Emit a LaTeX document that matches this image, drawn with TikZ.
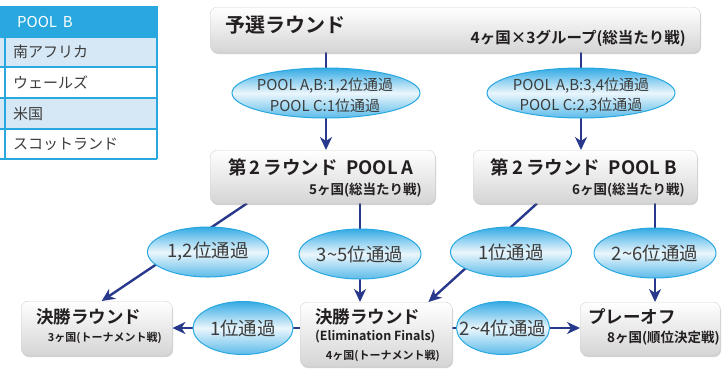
\documentclass[tikz,border=0pt]{standalone}
\usepackage{fontspec}
\setmainfont{Noto Sans CJK JP}[BoldFont={Noto Sans CJK JP Bold}]
\usetikzlibrary{shapes.geometric,arrows.meta,shadows,calc}
\definecolor{navy}{RGB}{40,57,140}
\definecolor{skyb}{RGB}{41,168,224}
\definecolor{skyfill}{RGB}{52,170,228}
\definecolor{rowb}{RGB}{214,232,245}
\definecolor{txt}{RGB}{35,31,32}
\definecolor{ltxt}{RGB}{60,60,60}
\newcommand{\fsz}[1]{\fontsize{#1}{#1}\selectfont}
\pgfdeclarelayer{bg}
\pgfsetlayers{bg,main}
\begin{document}
\begin{tikzpicture}[x=1pt,y=-1pt,
  box/.style={rectangle, rounded corners=7pt, draw=gray!35, line width=0.4pt,
    top color=white, bottom color=gray!33,
    drop shadow={shadow xshift=0.8pt, shadow yshift=-1.8pt, opacity=0.3, fill=black!60},
    inner sep=0pt, anchor=north west},
  oval/.style={ellipse, draw=skyb, line width=1pt, top color=skyfill,
    bottom color=skyfill!80, middle color=white!90!skyfill, inner sep=0pt},
  conn/.style={draw=navy, line width=2.4pt},
  arr/.style={conn, -{Stealth[length=13pt,width=12pt,inset=4pt]}},
  ttl/.style={font=\bfseries\fsz{17.5}, text=txt, inner sep=0pt},
  sub/.style={font=\bfseries\fsz{13.5}, text=txt, inner sep=0pt},
  lbl/.style={font=\fsz{18.5}, text=ltxt, inner sep=0pt},
  tlbl/.style={font=\fsz{15}, text=ltxt, inner sep=0pt, align=center},
  tab/.style={font=\fsz{15}, text=ltxt, inner sep=0pt, anchor=west},
  grid/.style={draw=skyb, line width=1.2pt}
]
\useasboundingbox (0,0) rectangle (725,370);

% ---------- table ----------
\fill[skyb] (0,6) rectangle (157,37);
\fill[rowb] (0,37) rectangle (157,67);
\fill[white] (0,67) rectangle (157,98);
\fill[rowb] (0,98) rectangle (157,129);
\fill[white] (0,129) rectangle (157,159);
\foreach \yy in {37,67,98,129,159} \draw[grid] (0,\yy) -- (157,\yy);
\draw[grid] (5,37) -- (5,159);
\draw[grid] (157,6) -- (157,159);
\node[tab, text=white] (th) at (17,22) {POOL\, B};
\node[tab] (t1) at (13,52) {南アフリカ};
\node[tab] (t2) at (13,82.5) {ウェールズ};
\node[tab] (t3) at (13,113.5) {米国};
\node[tab] (t4) at (13,144) {スコットランド};

% ---------- boxes ----------
\node[box, minimum width=490pt, minimum height=45pt] (top) at (210,7) {};
\node[box, minimum width=225pt, minimum height=53pt] (boxA) at (210,150) {};
\node[box, minimum width=224pt, minimum height=53pt] (boxB) at (473,150) {};
\node[box, minimum width=151pt, minimum height=54pt] (boxL) at (21,301) {};
\node[box, minimum width=152pt, minimum height=64pt] (boxE) at (300,302) {};
\node[box, minimum width=140pt, minimum height=53pt] (boxP) at (580,302) {};

% ---------- ovals ----------
\node[oval, minimum width=188pt, minimum height=50pt] (eA) at (326,93) {};
\node[oval, minimum width=188pt, minimum height=50pt] (eB) at (581,93) {};
\node[oval, minimum width=121pt, minimum height=50pt] (e12) at (208,252) {};
\node[oval, minimum width=122pt, minimum height=50pt] (e35) at (360,254) {};
\node[oval, minimum width=121pt, minimum height=50pt] (e1) at (511,252) {};
\node[oval, minimum width=122pt, minimum height=50pt] (e26) at (655,253) {};
\node[oval, minimum width=100pt, minimum height=53pt] (eL) at (243,328) {};
\node[oval, minimum width=93pt, minimum height=53pt] (eR) at (503,328) {};

% ---------- texts ----------
\node[ttl, font=\bfseries\fsz{20}, anchor=west] (topt) at (225,25) {予選ラウンド};
\node[sub, font=\bfseries\fsz{15.5}, anchor=east] (tops) at (686,38) {4ヶ国×3グループ(総当たり戦)};
\node[tlbl] (eAt1) at (325,86) {POOL A,B:1,2位通過};
\node[tlbl] (eAt2) at (325,106) {POOL C:1位通過};
\node[tlbl] (eBt1) at (581,86) {POOL A,B:3,4位通過};
\node[tlbl] (eBt2) at (581,106) {POOL C:2,3位通過};
\node[ttl, font=\bfseries\fsz{18.5}] (boxAt) at (321,167) {第\,2\,ラウンド\ \ POOL A};
\node[sub, anchor=east] (boxAs) at (422,190) {5ヶ国(総当たり戦)};
\node[ttl, font=\bfseries\fsz{18.5}] (boxBt) at (584,167) {第\,2\,ラウンド\ \ POOL B};
\node[sub, anchor=east] (boxBs) at (685,190) {6ヶ国(総当たり戦)};
\node[lbl] (e12t) at (e12) {1,2位通過};
\node[lbl] (e35t) at (e35) {3\textasciitilde5位通過};
\node[lbl] (e1t) at (e1) {1位通過};
\node[lbl] (e26t) at (e26) {2\textasciitilde6位通過};
\node[lbl] (eLt) at (eL) {1位通過};
\node[lbl] (eRt) at (eR) {2\textasciitilde4位通過};
\node[ttl, anchor=west] (boxLt) at (36,317) {決勝ラウンド};
\node[sub, font=\bfseries\fsz{11}, anchor=east] (boxLs) at (162,338) {3ヶ国(トーナメント戦)};
\node[ttl, anchor=west] (boxEt) at (315,317) {決勝ラウンド};
\node[sub, font=\bfseries\fsz{12.5}, anchor=west] (boxEs) at (315,337) {(Elimination Finals)};
\node[sub, font=\bfseries\fsz{11}, anchor=east] (boxEs2) at (440,356) {4ヶ国(トーナメント戦)};
\node[ttl, anchor=west] (boxPt) at (588,317) {プレーオフ};
\node[sub, anchor=east] (boxPs) at (720,338) {8ヶ国(順位決定戦)};

% ---------- connectors ----------
\begin{pgfonlayer}{bg}
\draw[arr] (top.south -| eA) -- (boxA.north -| eA);
\draw[arr] (top.south -| eB) -- (boxB.north -| eB);
\draw[arr] ($(boxA.south west)+(37,0)$) -- ($(boxL.north)+(5,0)$);
\draw[arr] (boxA.south -| e35) -- (boxE.north -| e35);
\draw[arr] ($(boxB.south west)+(64,0)$) -- ($(boxE.north east)+(-24,0)$);
\draw[arr] (boxB.south -| e26) -- (boxP.north -| e26);
\draw[arr] (boxE.west |- eL) -- (boxL.east |- eL);
\draw[arr] (boxE.east |- eR) -- (boxP.west |- eR);
\end{pgfonlayer}
\end{tikzpicture}
\end{document}
